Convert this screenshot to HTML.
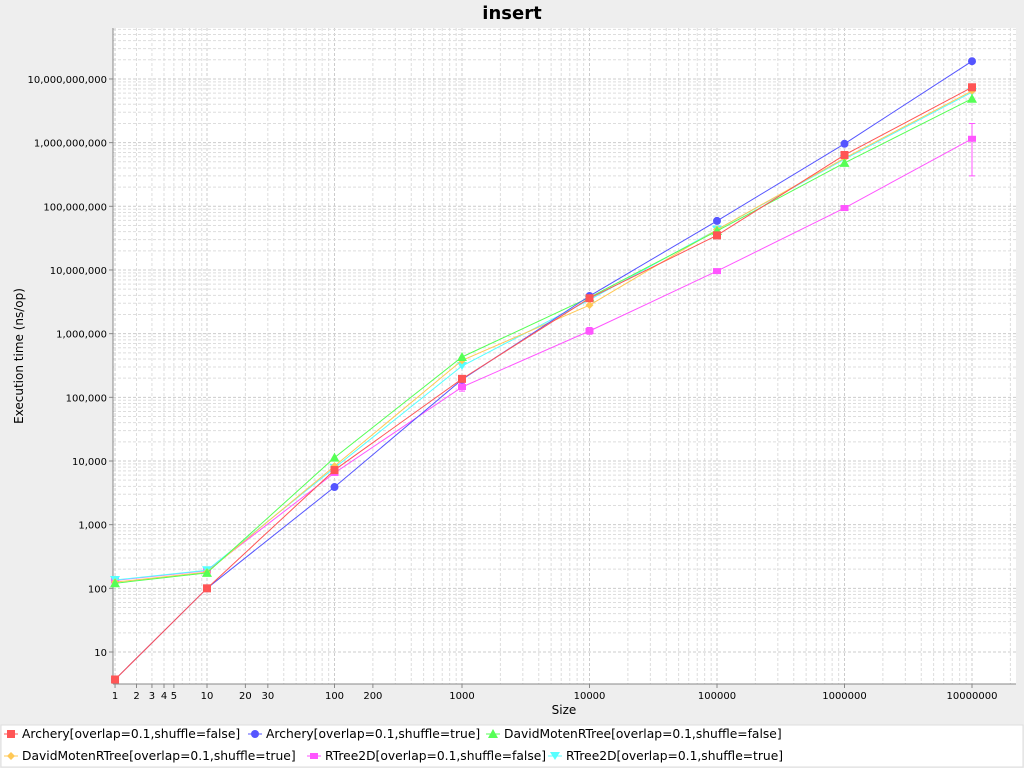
<!DOCTYPE html>
<html><head><meta charset="utf-8"><style>
body{margin:0;background:#eeeeee;font-family:"DejaVu Sans","Liberation Sans",sans-serif;}
svg{display:block}
</style></head><body>
<svg id="chart" width="1024" height="768" xmlns="http://www.w3.org/2000/svg">
<rect x="0" y="0" width="1024" height="768" fill="#eeeeee"/>
<text x="512" y="19" text-anchor="middle" font-size="18" font-weight="bold" fill="#000">insert</text>
<rect x="113" y="28" width="903" height="656" fill="#ffffff"/>
<g id="grid"></g><g id="axes"></g><g id="series"></g>
<text x="564" y="714" text-anchor="middle" font-size="12">Size</text>
<text transform="translate(23,356) rotate(-90)" text-anchor="middle" font-size="12">Execution time (ns/op)</text>
<rect x="1" y="725" width="1022" height="42" fill="#ffffff" stroke="#dddddd"/>
<g id="legend"></g>
</svg>
<script>
const sizes=[1,10,100,1000,10000,100000,1000000,10000000];
const seriesNames=["Archery[overlap=0.1,shuffle=false]","Archery[overlap=0.1,shuffle=true]","DavidMotenRTree[overlap=0.1,shuffle=false]","DavidMotenRTree[overlap=0.1,shuffle=true]","RTree2D[overlap=0.1,shuffle=false]","RTree2D[overlap=0.1,shuffle=true]"];
const archeryFalse=[3,100,7200,195000,3.6e6,3.5e7,6.4e8,7.4e9];
const archeryTrue=[3,100,3900,190000,3.9e6,5.9e7,9.6e8,1.9e10];
const davidFalse=[120,175,11300,430000,3.7e6,4.1e7,4.8e8,4.9e9];
const davidTrue=[125,180,8300,380000,2.8e6,4.3e7,5.7e8,6.5e9];
const rtreeFalse=[133,190,6500,145000,1.1e6,9.6e6,9.4e7,1.15e9];
const rtreeTrue=[135,192,7800,310000,3.4e6,4.3e7,5.5e8,6.2e9];
const rtreeFalseErrLo=[133,190,6500,125000,0.98e6,9.6e6,9.4e7,3.0e8];
const rtreeFalseErrHi=[133,190,6500,165000,1.25e6,9.6e6,9.4e7,2.0e9];
const xTickLabels=["1","2","3","4","5","10","20","30","100","200","1000","10000","100000","1000000","10000000"];
const yTickLabels=["10","100","1,000","10,000","100,000","1,000,000","10,000,000","100,000,000","1,000,000,000","10,000,000,000"];
const colors=["#ff5555","#5555ff","#55ff55","#ffc855","#ff55ff","#55ffff"];
const NS="http://www.w3.org/2000/svg";
function slog(v){ if(v<10) v=v+(10-v)/10; return Math.log10(v);}
function xs(v){return 207+(slog(v)-1)*127.5;}
function ys(v){return 652-(slog(v)-1)*63.67;}
function mk(t,a,parent){const e=document.createElementNS(NS,t);for(const k in a)e.setAttribute(k,a[k]);parent.appendChild(e);return e;}
const grid=document.getElementById('grid'),axes=document.getElementById('axes'),ser=document.getElementById('series'),leg=document.getElementById('legend');
for(let d=0;d<8;d++){for(let m=1;m<10;m++){const v=m*Math.pow(10,d);const x=xs(v);if(x<113||x>1016)continue;
 const l=mk('line',{x1:x,x2:x,y1:28,y2:684,stroke:m==1?'#cccccc':'#dddddd','stroke-dasharray':'3,2','stroke-width':1},grid);
 }}
for(let d=0;d<11;d++){for(let m=1;m<10;m++){const v=m*Math.pow(10,d);if(v<10)continue;const y=ys(v);if(y<28||y>684)continue;
 const l=mk('line',{x1:113,x2:1016,y1:y,y2:y,stroke:m==1?'#cccccc':'#dddddd','stroke-dasharray':'3,2','stroke-width':1},grid);
 }}
mk('line',{x1:113,x2:113,y1:28,y2:684,stroke:'#888'},axes);
mk('line',{x1:113,x2:1016,y1:684,y2:684,stroke:'#888'},axes);
xTickLabels.forEach(s=>{const v=+s;const x=xs(v);
 mk('line',{x1:x,x2:x,y1:684,y2:688,stroke:'#888'},axes);
 const t=mk('text',{x:x,y:699,'text-anchor':'middle','font-size':10},axes);t.textContent=s;
 });
yTickLabels.forEach(s=>{const v=+s.replace(/,/g,'');const y=ys(v);
 mk('line',{x1:109,x2:113,y1:y,y2:y,stroke:'#888'},axes);
 const t=mk('text',{x:107,y:y+4,'text-anchor':'end','font-size':10},axes);t.textContent=s;
 });
function marker(i,x,y,p){const c=colors[i];let e;
 if(i==0)e=mk('rect',{x:x-4,y:y-4,width:8,height:8,fill:c},p);
 else if(i==1)e=mk('circle',{cx:x,cy:y,r:4,fill:c},p);
 else if(i==2)e=mk('polygon',{points:`${x},${y-5} ${x+5},${y+4} ${x-5},${y+4}`,fill:c},p);
 else if(i==3)e=mk('polygon',{points:`${x},${y-4} ${x+4},${y} ${x},${y+4} ${x-4},${y}`,fill:c},p);
 else if(i==4)e=mk('rect',{x:x-4,y:y-3,width:8,height:6,fill:c},p);
 else e=mk('polygon',{points:`${x-5},${y-4} ${x+5},${y-4} ${x},${y+4}`,fill:c},p);
 return e;}
const allSeries=[archeryFalse,archeryTrue,davidFalse,davidTrue,rtreeFalse,rtreeTrue];
const order=[4,5,3,2,1,0];
order.forEach(i=>{const vals=allSeries[i];const g=mk('g',{},ser);
 
 const pts=vals.map((v,k)=>xs(sizes[k])+','+ys(v)).join(' ');
 mk('polyline',{points:pts,fill:'none',stroke:colors[i],'stroke-width':1},g);
 if(i==4){sizes.forEach((s,k)=>{const x=xs(s),y1=ys(rtreeFalseErrLo[k]),y2=ys(rtreeFalseErrHi[k]);
  if(Math.abs(y1-y2)<1)return;
  const e=mk('path',{d:`M${x},${y1}V${y2}M${x-3},${y1}H${x+3}M${x-3},${y2}H${x+3}`,stroke:colors[4],'stroke-width':1,fill:'none'},g);
  });}
 vals.forEach((v,k)=>{const m=marker(i,xs(sizes[k]),ys(v),g);
  });});
const legPos=[[4,738],[248,738],[486,738],[4,760],[307,760],[548,760]];
seriesNames.forEach((n,i)=>{const [x,y]=legPos[i];const g=mk('g',{},leg);
 
 mk('line',{x1:x,x2:x+14,y1:y-4,y2:y-4,stroke:colors[i],'stroke-width':1},g);
 marker(i,x+7,y-4,g);
 const t=mk('text',{x:x+18,y:y,'font-size':12.3},g);t.textContent=n;});
</script>
</body></html>
